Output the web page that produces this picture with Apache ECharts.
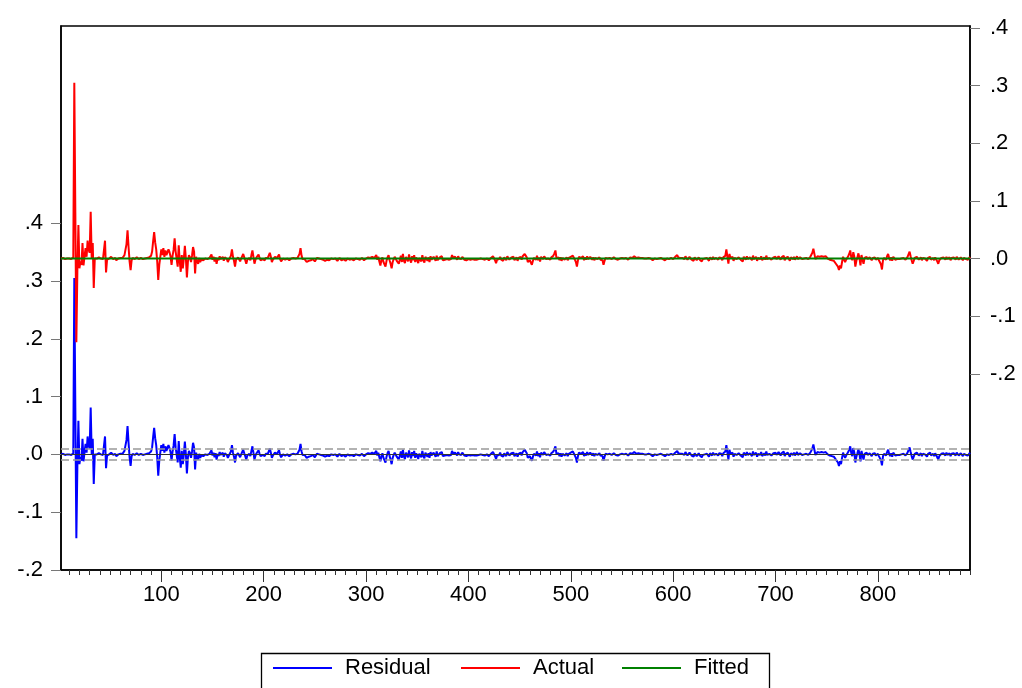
<!DOCTYPE html>
<html>
<head>
<meta charset="utf-8">
<title>Residual / Actual / Fitted</title>
<script src="https://cdn.jsdelivr.net/npm/echarts@6/dist/echarts.min.js"></script>
<style>
  html, body { margin: 0; padding: 0; background: #fff; }
  #chart { width: 1022px; height: 688px; }
</style>
</head>
<body>
<div id="chart"></div>
<script>
// sample runs from obs 2 to obs 890
const firstObs = 2;

// residuals in thousandths (obs 2 onwards)
const residualMilli = [
  0,0,1,0,-1,0,0,1,0,0,-1,0,                                        // 0-11
  2,305,80,-145,-20,58,-17,-5,-11,27,-12,4,18,3,31,15,10,81,0,27,-51,0, // 12-33
  1,0,-1,2,1,0,1,-1,2,31,-24,                                       // 34-44
  -2,1,0,2,3,1,-1,0,1,-3,-1,0,2,1,-1,1,3,6,                         // 45-62
  8,25,49,20,-5,-20,-3,                                             // 63-69
  1,0,-1,1,2,0,-1,0,1,0,-1,1,0,2,1,3,                               // 70-85
  2,3,5,12,30,46,28,16,-5,-37,-11,3,16,6,18,3,14,6,6,16,11,4,-11,   // 86-108
  5,15,35,12,11,-14,23,-5,-23,6,-17,0,22,0,-33,-5,6,2,-6,5,20,12,-26,3,-5,-9,1,-6, // 109-136
  -2,-1,-3,-1,0,-2,-1,0,1,                                          // 137-145
  0,7,-2,3,-5,2,-9,1,-3,4,-1,-2,3,-4,2,4,-1,-6,-2,1,                // 146-165
  5,16,3,-4,-14,-2,1,2,-1,-5,0,3,8,2,-3,-9,-2,-5,1,-3,              // 166-185
  6,14,3,-9,-2,2,4,7,1,-3,-5,-1,0,-3,1,2,1,4,10,3,                  // 186-205
  -6,-2,1,3,2,1,4,7,-1,-5,-2,0,-1,-2,1,0,-1,-3,-1,0,                // 206-225
  -2,1,-1,0,2,1,3,8,18,5,-1,-3,-1,-4,-6,-9,-4,-1,-3,-2,             // 226-245
  -1,-3,-5,-2,1,3,0,-2,-1,-3,-2,0,-4,-6,-2,-1,-3,-1,0,-2,           // 246-265
  -1,-3,0,-2,-4,-1,1,-2,-3,0,-1,-2,-4,-1,0,-3,-2,1,-1,-2,           // 266-285
  -3,-1,0,-2,-1,-4,-2,0,1,-1,-3,-2,0,-1,2,4,1,-1,3,2,               // 286-305
  1,4,6,-2,3,-5,-12,-3,2,-6,-8,-14,-4,2,6,-3,-9,-17,-6,-1,3,1,-4,-6,-9,-2, // 306-331
  5,-6,8,-4,-8,3,6,-5,7,-2,-7,4,-3,6,-6,2,5,-8,1,4,-5,6,-3,-7,3,5,-4,2,-6,4,-2,-5,3,1,-4,5,-3,-6,2,-1,4,-3,-5, // 332-374
  -2,-4,-1,-3,-2,0,-1,                                              // 375-381
  6,2,-1,3,1,-2,4,0,2,-1,3,1,-2,                                    // 382-394
  -1,-3,-2,-1,-4,-2,0,-1,-3,-2,-1,-2,-4,-1,-3,0,-2,-1,-3,-2,-1,0,-2,-3,-1,1, // 395-420
  2,4,6,-3,-8,-2,1,-1,                                              // 421-428
  3,-2,1,-4,2,-1,-3,4,1,-2,-5,2,-1,3,-3,0,2,-4,1,-1,3,-2,4,         // 429-451
  5,8,11,2,-6,-9,-3,-5,-11,-4,1,                                    // 452-462
  4,-2,5,-3,2,-5,3,1,-1,4,2,-1,-2,0,1,-2,2,                         // 463-479
  3,5,9,14,1,-1,2,                                                  // 480-486
  -3,2,-4,1,3,-2,0,2,-3,1,-1,3,                                     // 487-498
  2,5,8,-2,-6,-14,-3,3,6,1,-2,4,                                    // 499-510
  -3,2,-2,4,-1,-4,3,0,-2,2,-3,1,3,-1,-4,2,                          // 511-526
  -2,-5,-3,-11,-4,1,-2,                                             // 527-533
  0,-1,1,-2,-1,0,2,1,-1,0,-2,1,0,-1,1,2,0,-1,1,0,-2,1,              // 534-555
  2,3,1,2,4,2,1,3,2,0,1,3,1,-1,0,2,                                 // 556-571
  0,-1,1,-2,0,-1,-3,-1,0,1,-1,-2,0,-1,1,-2,-1,0,-3,-1,0,2,-1,-2,1,0,-1,2, // 572-599
  3,4,6,2,-1,1,0,                                                   // 600-606
  1,2,-1,4,1,-2,0,3,1,                                              // 607-615
  -2,1,-4,2,-1,-3,0,2,-2,1,-5,-1,2,0,-3,1,-1,-4,2,0,-2,3,-1,-3,1,0,-2,2,-1,1,-3, // 616-646
  2,-1,5,16,3,-9,8,1,                                               // 647-654
  -2,3,-4,1,4,-1,-3,2,5,-2,1,-5,3,0,-2,4,-1,-4,2,1,                 // 655-674
  -3,5,-1,-2,3,-4,1,2,-1,4,-3,0,2,-2,5,-1,-3,1,3,-2,                // 675-694
  -4,2,0,3,-1,-3,4,1,-2,2,-1,5,-3,1,-2,3,0,-4,2,1,                  // 695-714
  -1,3,-2,0,4,-1,-3,2,                                              // 715-722
  1,-1,2,0,-2,1,3,-1,2,                                             // 723-731
  3,6,10,17,8,-1,-3,                                                // 732-738
  4,5,3,6,4,5,3,2,4,1,0,-1,                                         // 739-750
  -2,1,-3,-1,-4,-6,-9,-8,-14,-20,-12,-17,-6,3,-2,                   // 751-765
  -6,-2,1,4,8,14,2,-3,11,3,-14,-4,2,9,1,-12,6,-2,-9,1,              // 766-785
  -2,3,-1,-4,2,0,-3,1,-1,2,-2,0,1,-3,                               // 786-799
  -5,-10,-19,-3,1,                                                  // 800-804
  2,-2,4,8,1,-3,2,-4,3,0,-2,1,-1,0,-1,1,                            // 805-820
  0,-1,1,0,-2,1,3,6,12,4,-3,-9,-4,1,3,3,0,-2,                       // 821-838
  -1,2,-3,1,-2,0,2,-4,1,-1,3,-2,0,1,-3,2,-1,                        // 839-855
  -5,-9,-3,-6,1,-2,2,                                               // 856-862
  1,-2,3,-1,0,2,-3,1,-1,2,0,-2,3,1,-2,-1,2,0,-3,1,2,-1,0,-2,1,3     // 863-888
];

// fitted value is flat (constant-only equation)
const fittedValue = 0.0002;
// S.E. of regression, drawn as the dashed band round zero
const stdErr = 0.0138;

const xLabelValues = [100, 200, 300, 400, 500, 600, 700, 800];
const yLabelValues = [-0.2, -0.1, 0, 0.1, 0.2, 0.3, 0.4];
const legendNames = ['Residual', 'Actual', 'Fitted'];
const legendLefts = [273, 461, 622];

const lastObs = firstObs + residualMilli.length - 1;
const minorTickValues = [];
for (let t = 10; t <= lastObs; t += 10) minorTickValues.push(t);

const residualData = [], actualData = [], fittedData = [];
residualMilli.forEach(function (v, i) {
  const obs = firstObs + i;
  residualData.push([obs, v / 1000]);
  actualData.push([obs, fittedValue + v / 1000]);
  fittedData.push([obs, fittedValue]);
});

function shortNum(v) {
  return v.toFixed(1).replace('0.', '.');
}

const font = "'Liberation Sans', Arial, sans-serif";

// one legend per item so each sits where it does in the original
const legends = legendNames.map(function (n, i) {
  return {
    left: legendLefts[i], top: 657, padding: 0,
    icon: 'rect', itemWidth: 59, itemHeight: 2,
    textStyle: { fontSize: 22, color: '#000', fontFamily: font, padding: [0, 0, 0, 8] },
    data: [n]
  };
});

const chart = echarts.init(document.getElementById('chart'));
chart.setOption({
  animation: false,
  backgroundColor: '#fff',
  textStyle: { fontFamily: font },
  grid: {
    left: 61, right: 52, top: 26, bottom: 118,
    show: true, borderColor: '#000', borderWidth: 1.5, backgroundColor: 'transparent'
  },
  legend: legends,
  graphic: [{
    type: 'rect', left: 259, top: 651, silent: true,
    shape: { width: 508, height: 50 },
    style: { fill: 'none', stroke: '#000', lineWidth: 1.3 }
  }],
  xAxis: [
    {
      type: 'value', min: firstObs, max: lastObs,
      axisLine: { show: true, onZero: false, lineStyle: { color: '#000', width: 1.5 } },
      axisTick: { show: true, customValues: xLabelValues, length: 12, lineStyle: { color: '#333' } },
      axisLabel: { customValues: xLabelValues, fontSize: 22, color: '#000', margin: 14 },
      splitLine: { show: false }
    },
    {
      type: 'value', min: firstObs, max: lastObs, position: 'bottom',
      axisLine: { show: false, onZero: false },
      axisTick: { show: true, customValues: minorTickValues, length: 5, lineStyle: { color: '#333' } },
      axisLabel: { show: false },
      splitLine: { show: false }
    }
  ],
  yAxis: [
    {
      type: 'value', min: -0.2, max: 0.741, position: 'left',
      axisLine: { show: true, onZero: false, lineStyle: { color: '#000', width: 1.5 } },
      axisTick: { show: true, customValues: yLabelValues, length: 10, lineStyle: { color: '#777' } },
      axisLabel: { customValues: yLabelValues, formatter: shortNum, fontSize: 22, color: '#000', margin: 18 },
      splitLine: { show: false }
    },
    {
      type: 'value', min: -0.540, max: 0.4035, position: 'right',
      axisLine: { show: true, onZero: false, lineStyle: { color: '#000', width: 1.5 } },
      axisTick: { show: true, customValues: yLabelValues, length: 10, lineStyle: { color: '#777' } },
      axisLabel: { customValues: yLabelValues, formatter: shortNum, fontSize: 22, color: '#000', margin: 20 },
      splitLine: { show: false }
    }
  ],
  series: [
    {
      name: 'Residual', type: 'line', yAxisIndex: 0, data: residualData,
      symbol: 'none', lineStyle: { color: '#0000ff', width: 2 }, itemStyle: { color: '#0000ff' },
      markLine: {
        silent: true, symbol: 'none', label: { show: false },
        data: [
          { yAxis: 0, lineStyle: { color: '#333', width: 1.2, type: 'solid' } },
          { yAxis: stdErr, lineStyle: { color: '#999', width: 1.5, type: [8, 4] } },
          { yAxis: -stdErr, lineStyle: { color: '#999', width: 1.5, type: [8, 4] } }
        ]
      }
    },
    {
      name: 'Actual', type: 'line', yAxisIndex: 1, data: actualData,
      symbol: 'none', lineStyle: { color: '#ff0000', width: 2 }, itemStyle: { color: '#ff0000' }
    },
    {
      name: 'Fitted', type: 'line', yAxisIndex: 1, data: fittedData,
      symbol: 'none', lineStyle: { color: '#008000', width: 2 }, itemStyle: { color: '#008000' }
    }
  ]
});
</script>
</body>
</html>
